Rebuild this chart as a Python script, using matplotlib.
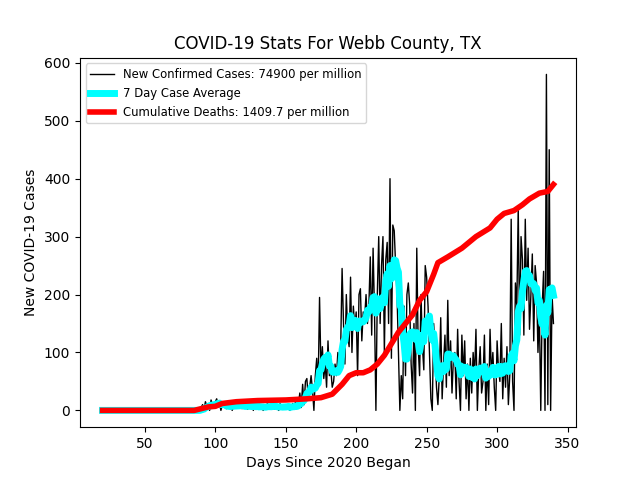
import matplotlib
matplotlib.use("Agg")
import matplotlib.pyplot as plt
import numpy as np
import pandas as pd

# daily new cases, day 20 .. 340
cases = [0] * 70 + [
    5, 10, 0, 15, 8, 12, 0, 18, 10, 5,
    15, 20, 8, 12, 0, 10, 6, 14, 3, 9,
    5, 12, 0, 8, 15, 4, 10, 6, 12, 3,
    8, 5, 14, 2, 10, 6, 9, 0, 12, 5,
    7, 3, 10, 6, 0, 8, 5, 12, 4, 9,
    6, 10, 2, 8, 5, 0, 12, 4, 8, 6,
    5, 10, 3, 0, 8, 12, 6, 15, 4, 10,
    30, 5, 45, 10, 50, 55, 20, 40, 60, 35,
    0, 60, 90, 40, 195, 70, 110, 55, 80, 40,
    120, 60, 70, 40, 50, 80, 60, 100, 90, 110,
    245, 150, 80, 200, 130, 110, 230, 100, 180, 140,
    170, 60, 200, 210, 120, 170, 160, 200, 150, 180,
    265, 130, 280, 170, 0, 200, 300, 150, 250, 300,
    100, 260, 290, 150, 400, 90, 320, 310, 250, 200,
    100, 0, 60, 20, 180, 60, 200, 220, 180, 80,
    30, 150, 0, 280, 110, 60, 200, 110, 70, 250,
    230, 180, 100, 20, 0, 150, 100, 40, 10, 60,
    160, 20, 80, 130, 40, 190, 60, 120, 30, 90,
    100, 20, 140, 50, 0, 130, 60, 120, 20, 80,
    0, 90, 30, 100, 60, 140, 0, 70, 110, 30,
    50, 130, 0, 80, 10, 140, 60, 100, 40, 0,
    120, 70, 50, 150, 20, 90, 40, 110, 10, 60,
    330, 50, 0, 220, 180, 350, 130, 300, 260, 130,
    330, 190, 280, 140, 200, 270, 120, 250, 220, 100,
    170, 0, 180, 240, 0, 580, 10, 450, 0, 200,
    150,
]
days = np.arange(20, 20 + len(cases))
avg = pd.Series(cases).rolling(7, min_periods=1).mean()

death_days = [20, 85, 90, 95, 100, 105, 115, 130, 150, 165, 175, 183, 190, 195, 200,
              205, 210, 215, 220, 225, 230, 235, 240, 245, 250, 255, 258, 265, 275,
              285, 295, 300, 305, 312, 318, 323, 330, 336, 340]
deaths = [0, 0, 3, 6, 7, 12, 15, 17, 18, 20, 22, 28, 45, 60, 65,
          65, 70, 80, 95, 115, 135, 150, 165, 190, 205, 235, 255, 265, 280,
          300, 315, 330, 340, 345, 355, 365, 375, 378, 390]

fig, ax = plt.subplots(figsize=(6.4, 4.8), dpi=100)
ax.plot(days, cases, color="black", lw=1, label="New Confirmed Cases: 74900 per million")
ax.plot(days, avg, color="cyan", lw=5, label="7 Day Case Average")
ax.plot(death_days, deaths, color="red", lw=4, label="Cumulative Deaths: 1409.7 per million")
ax.set_title("COVID-19 Stats For Webb County, TX")
ax.set_xlabel("Days Since 2020 Began")
ax.set_ylabel("New COVID-19 Cases")
ax.legend(loc="upper left", fontsize="small")
fig.savefig("out.png")
